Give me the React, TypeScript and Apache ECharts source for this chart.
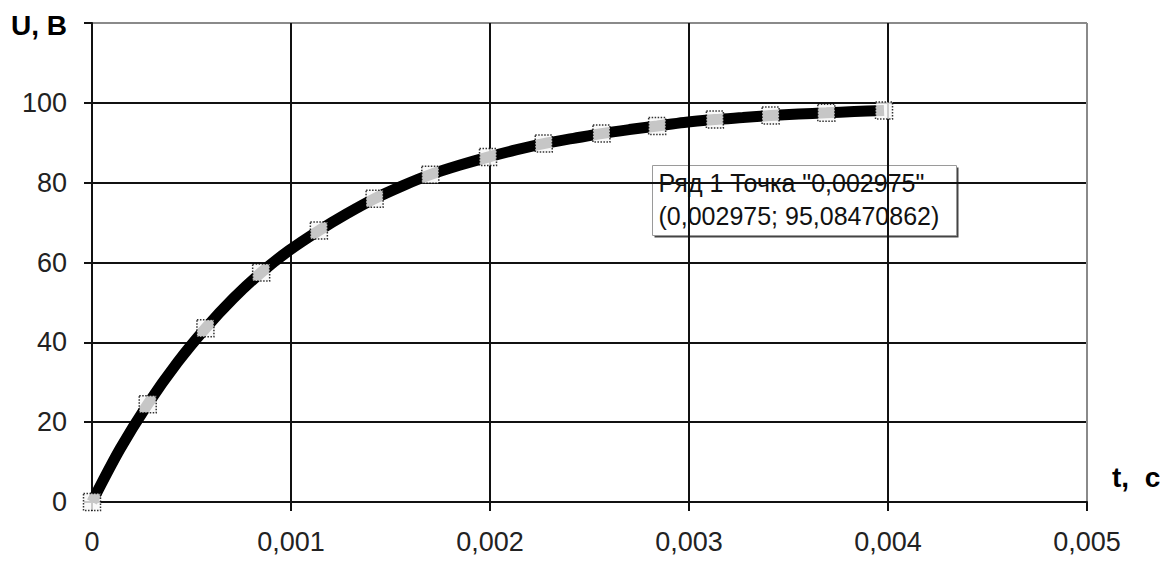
import React, { useEffect, useRef } from "react";
import * as echarts from "echarts";

// Curve values (t in seconds, U in volts)
const tValues = [
  0, 0.00014, 0.00028, 0.00043, 0.00057, 0.00071, 0.00085, 0.00099, 0.00114,
  0.00128, 0.00142, 0.00156, 0.0017, 0.00185, 0.00199, 0.00213, 0.00227,
  0.00242, 0.00256, 0.0027, 0.00284, 0.002975, 0.00313, 0.00327, 0.00341,
  0.00355, 0.00369, 0.00383, 0.00398,
];
const uValues = [
  0, 13.2, 24.5, 35, 43.5, 51, 57.5, 63, 68, 72.2, 76, 79.2, 82, 84.4, 86.4,
  88.2, 89.8, 91.1, 92.3, 93.3, 94.2, 95.08, 95.8, 96.3, 96.8, 97.2, 97.5,
  97.8, 98.1,
];

// Selection-handle markers visible on the series
const markerT = [
  0, 0.00028, 0.00057, 0.00085, 0.00114, 0.00142, 0.0017, 0.00199, 0.00227,
  0.00256, 0.00284, 0.00313, 0.00341, 0.00369, 0.00398,
];
const markerU = [
  0, 24.5, 43.5, 57.5, 68, 76, 82, 86.4, 89.8, 92.3, 94.2, 95.8, 96.8, 97.5,
  98.1,
];

const xTicks = { min: 0, max: 0.005, interval: 0.001 };
const yTicks = { min: 0, max: 120, interval: 20 };

const yAxisTitle = "U, В";
const xAxisTitle = "t,  с";
const noteLine1 = 'Ряд 1 Точка "0,002975"';
const noteLine2 = "(0,002975; 95,08470862)";

const FONT = '"Liberation Sans", Arial, sans-serif';

export default function App() {
  const ref = useRef<HTMLDivElement>(null);

  useEffect(() => {
    if (!ref.current) return;
    const chart = echarts.init(ref.current, undefined, { renderer: "svg" });
    const lineData = tValues.map((t, i) => [t, uValues[i]]);
    const markData = markerT.map((t, i) => [t, markerU[i]]);

    chart.setOption({
      animation: false,
      backgroundColor: "#ffffff",
      textStyle: { fontFamily: FONT },
      grid: { left: 92, right: 78, top: 23, bottom: 61, containLabel: false },
      xAxis: {
        type: "value",
        min: xTicks.min,
        max: xTicks.max,
        interval: xTicks.interval,
        axisLine: { show: true, onZero: false, lineStyle: { color: "#111", width: 2 } },
        axisTick: { show: true, length: 9, lineStyle: { color: "#111", width: 2 } },
        axisLabel: {
          margin: 26,
          fontSize: 27,
          color: "#222",
          fontFamily: FONT,
          formatter: (v: number) =>
            v === 0 ? "0" : v.toFixed(3).replace(".", ","),
        },
        splitLine: {
          show: true,
          lineStyle: {
            color: ["#111", "#111", "#111", "#111", "#111", "#8a8a8a"],
            width: 2,
          },
        },
      },
      yAxis: {
        type: "value",
        min: yTicks.min,
        max: yTicks.max,
        interval: yTicks.interval,
        axisLine: { show: true, onZero: false, lineStyle: { color: "#111", width: 2 } },
        axisTick: { show: true, length: 8, lineStyle: { color: "#111", width: 2 } },
        axisLabel: {
          margin: 25,
          fontSize: 27,
          color: "#222",
          fontFamily: FONT,
          formatter: (v: number) => (v === 120 ? "" : String(v)),
        },
        splitLine: {
          show: true,
          lineStyle: {
            color: ["#111", "#111", "#111", "#111", "#111", "#111", "#8a8a8a"],
            width: 2,
          },
        },
      },
      series: [
        {
          type: "line",
          data: lineData,
          smooth: 0.3,
          showSymbol: false,
          lineStyle: { color: "#000", width: 11 },
          z: 3,
        },
        {
          type: "scatter",
          data: markData,
          symbol: "rect",
          symbolSize: 17,
          itemStyle: {
            color: "#f7f7f7",
            borderColor: "#000",
            borderWidth: 1.5,
            borderType: "dotted",
          },
          z: 4,
        },
      ],
      graphic: [
        {
          type: "text",
          left: 11,
          top: 11,
          style: {
            text: yAxisTitle,
            font: `bold 28px ${FONT}`,
            fill: "#000",
          },
        },
        {
          type: "text",
          left: 1112,
          top: 463,
          style: {
            text: xAxisTitle,
            font: `bold 28px ${FONT}`,
            fill: "#000",
          },
        },
        {
          type: "group",
          left: 652,
          top: 165,
          children: [
            {
              type: "rect",
              shape: { x: 2, y: 2, width: 304, height: 70 },
              style: { fill: "#444" },
            },
            {
              type: "rect",
              shape: { x: 0, y: 0, width: 304, height: 70 },
              style: { fill: "#ffffff", stroke: "#9a9a9a", lineWidth: 1 },
            },
            {
              type: "text",
              x: 6,
              y: 5,
              style: {
                text: noteLine1,
                font: `25px ${FONT}`,
                fill: "#111",
              },
            },
            {
              type: "text",
              x: 6,
              y: 38,
              style: {
                text: noteLine2,
                font: `25px ${FONT}`,
                fill: "#111",
              },
            },
          ],
        },
      ],
    });

    return () => chart.dispose();
  }, []);

  return (
    <div
      ref={ref}
      style={{ position: "fixed", left: 0, top: 0, width: 1165, height: 563 }}
    />
  );
}
